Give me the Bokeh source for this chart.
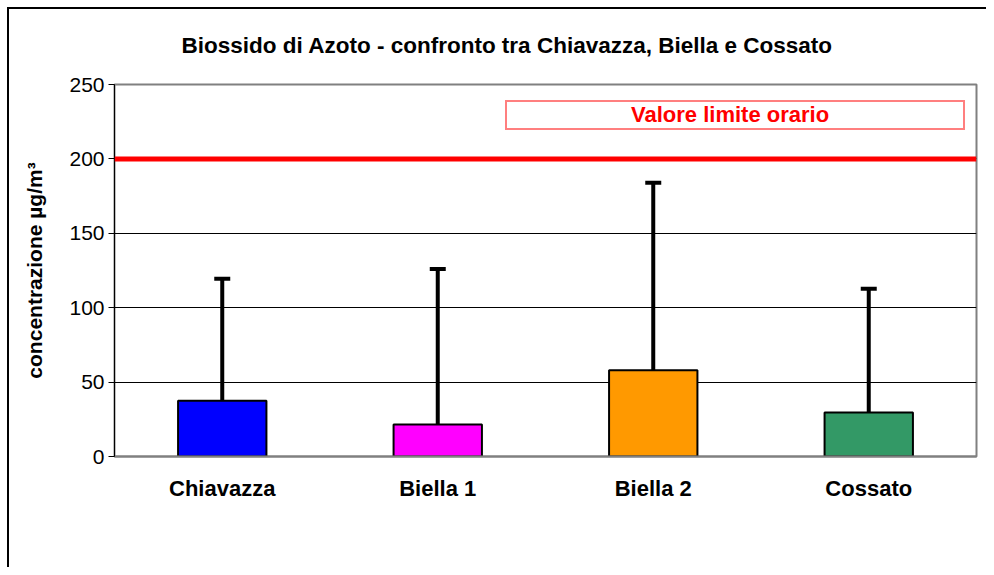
from bokeh.plotting import figure
from bokeh.models import (FactorRange, Range1d, Span, Whisker, TeeHead, ColumnDataSource,
                          FixedTicker, Legend, LegendItem)
from bokeh.embed import file_html
from bokeh.resources import INLINE

stations = ["Chiavazza", "Biella 1", "Biella 2", "Cossato"]
mean_values = [37.5, 21.5, 58, 29.5]
max_values = [119.5, 126, 184, 112.7]
bar_colors = ["#0000FF", "#FF00FF", "#FF9900", "#339966"]
limit_value = 200
y_ticks = [0, 50, 100, 150, 200, 250]
title_text = "Biossido di Azoto - confronto tra Chiavazza, Biella e Cossato"
y_label = "concentrazione µg/m³"
limit_label = "Valore limite orario"

FONT = "Liberation Sans"

p = figure(width=986, height=567, output_backend="svg", toolbar_location=None,
           x_range=FactorRange(factors=stations, range_padding=0),
           y_range=Range1d(0, 250),
           min_border_left=114, min_border_right=10, min_border_top=84, min_border_bottom=111)
p.styles = {
    "background-color": "white",
    "background-image": "linear-gradient(#000,#000), linear-gradient(#000,#000)",
    "background-size": "2px 100%, 100% 2px",
    "background-position": "7px 7px, 7px 7px",
    "background-repeat": "no-repeat",
}
p.border_fill_color = None
p.background_fill_color = "white"
p.outline_line_color = "#808080"
p.outline_line_width = 2

p.title.text = title_text
p.title.align = "left"
p.title.offset = 67
p.title.standoff = 53
p.title.text_font = FONT
p.title.text_font_size = "22.5px"
p.title.text_font_style = "bold"
p.title.text_color = "black"

src = ColumnDataSource(dict(x=stations, top=mean_values, upper=max_values, color=bar_colors))
p.vbar(x="x", top="top", width=0.41, fill_color="color", line_color="black",
       line_width=2, source=src)

p.add_layout(Whisker(base="x", lower="top", upper="upper", source=src,
                     line_color="black", line_width=4,
                     upper_head=TeeHead(size=16, line_width=4, line_color="black"),
                     lower_head=None))

limit_renderer = p.line(x=[0, 4], y=[limit_value, limit_value], line_color="red",
                        line_width=5, visible=False)
p.add_layout(Span(location=limit_value, dimension="width", line_color="red", line_width=5))

legend = Legend(items=[LegendItem(label=limit_label, renderers=[limit_renderer])],
                location=(391, 326), padding=0, margin=0, spacing=0,
                glyph_width=0, glyph_height=26, label_height=26,
                label_standoff=124, label_width=332,
                border_line_color="red", border_line_width=2,
                background_fill_color="white", background_fill_alpha=1,
                label_text_color="red", label_text_font=FONT,
                label_text_font_style="bold", label_text_font_size="22px")
p.add_layout(legend, "center")

# axes
p.yaxis.ticker = FixedTicker(ticks=y_ticks)
p.ygrid.ticker = FixedTicker(ticks=[t for t in y_ticks if 0 < t < 250])
p.ygrid.grid_line_color = "black"
p.ygrid.grid_line_width = 1
p.xgrid.grid_line_color = None

p.yaxis.axis_line_color = "black"
p.yaxis.axis_line_width = 1
p.yaxis.major_tick_line_color = "black"
p.yaxis.major_tick_out = 6
p.yaxis.major_tick_in = 0
p.yaxis.minor_tick_line_color = None
p.yaxis.major_label_text_font = FONT
p.yaxis.major_label_text_font_size = "21px"
p.yaxis.major_label_text_color = "black"
p.yaxis.major_label_standoff = 4
p.yaxis.axis_label = y_label
p.yaxis.axis_label_text_font = FONT
p.yaxis.axis_label_text_font_size = "21px"
p.yaxis.axis_label_text_font_style = "bold"
p.yaxis.axis_label_text_color = "black"
p.yaxis.axis_label_standoff = 20

p.xaxis.axis_line_color = "#808080"
p.xaxis.axis_line_width = 2
p.xaxis.major_tick_line_color = None
p.xaxis.major_tick_out = 0
p.xaxis.minor_tick_line_color = None
p.xaxis.major_label_text_font = FONT
p.xaxis.major_label_text_font_size = "22px"
p.xaxis.major_label_text_font_style = "bold"
p.xaxis.major_label_text_color = "black"
p.xaxis.major_label_standoff = 19

open("out.html", "w").write(file_html(p, INLINE))
